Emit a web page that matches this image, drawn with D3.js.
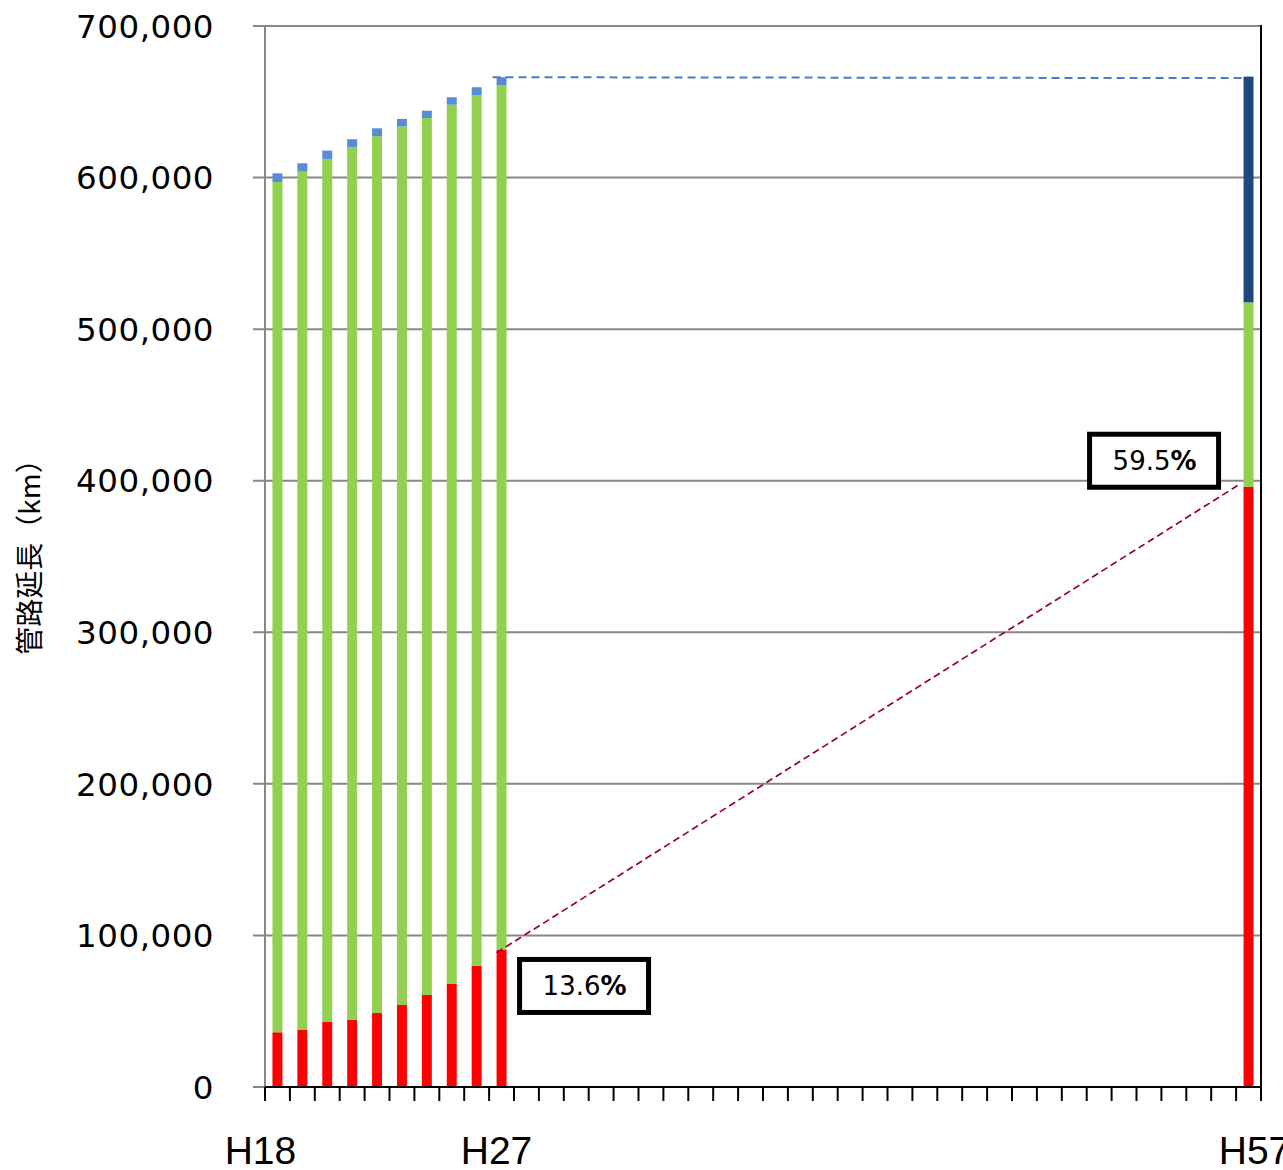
<!DOCTYPE html>
<html>
<head>
<meta charset="utf-8">
<script src="https://cdn.jsdelivr.net/npm/d3@7"></script>
<style>
  body { margin: 0; background: #fff; }
  svg { display: block; }
</style>
</head>
<body>
<svg width="1283" height="1170"></svg>
<script>
// Datos del gráfico
const years = ["H18","H19","H20","H21","H22","H23","H24","H25","H26","H27",
  "H28","H29","H30","H31","H32","H33","H34","H35","H36","H37",
  "H38","H39","H40","H41","H42","H43","H44","H45","H46","H47",
  "H48","H49","H50","H51","H52","H53","H54","H55","H56","H57"];
const barYears = ["H18","H19","H20","H21","H22","H23","H24","H25","H26","H27","H57"];
const over40 = [36100, 37600, 42900, 44200, 48800, 54100, 60700, 68200, 80000, 90600, 396100];
const under40 = [561000, 566300, 569400, 576000, 578600, 579700, 578600, 579900, 574500, 570300, 121600];
const unknown = [5700, 5500, 5500, 5100, 5100, 4900, 4800, 4900, 5100, 5300, 0];
const future = [0, 0, 0, 0, 0, 0, 0, 0, 0, 0, 148900];
const yTicks = [0, 100000, 200000, 300000, 400000, 500000, 600000, 700000];
const xLabels = ["H18", "H27", "H57"];
const pctLabels = [{ year: "H27", num: "13.6" }, { year: "H57", num: "59.5" }];

// Seleccionar el contenedor SVG
const svg = d3.select("svg");
const mLeft = 265, mTop = 26, plotW = 996, plotH = 1061;

const x = d3.scaleBand().domain(years).range([mLeft, mLeft + plotW]).paddingInner(0.6).paddingOuter(0.3);
const xb = d3.scaleBand().domain(years).range([mLeft, mLeft + plotW]);
const y = d3.scaleLinear().domain([0, 700000]).range([mTop + plotH, mTop]);

// Líneas de cuadrícula
svg.append("g").selectAll("line")
  .data(yTicks)
  .enter().append("line")
  .attr("x1", mLeft - 12).attr("x2", mLeft + plotW)
  .attr("y1", d => y(d)).attr("y2", d => y(d))
  .attr("stroke", "#878787").attr("stroke-width", 2);

// Eje izquierdo y borde derecho
svg.append("line").attr("x1", mLeft).attr("x2", mLeft).attr("y1", mTop).attr("y2", mTop + plotH)
  .attr("stroke", "#878787").attr("stroke-width", 2);
svg.append("line").attr("x1", mLeft + plotW).attr("x2", mLeft + plotW).attr("y1", mTop - 1).attr("y2", mTop + plotH + 14)
  .attr("stroke", "#000").attr("stroke-width", 2);

// Etiquetas del eje Y
svg.append("g").selectAll("text")
  .data(yTicks)
  .enter().append("text")
  .attr("x", 214)
  .attr("y", d => y(d))
  .attr("dy", "0.36em")
  .attr("text-anchor", "end")
  .style("font-family", "'DejaVu Sans', sans-serif")
  .style("font-size", "32.5px")
  .style("letter-spacing", "0.5px")
  .text(d => d3.format(",")(d));

// Barras apiladas
const table = barYears.map((yr, i) => ({ year: yr, over40: over40[i], under40: under40[i], unknown: unknown[i], future: future[i] }));
const keys = ["over40", "under40", "unknown", "future"];
const colors = { over40: "#FF0000", under40: "#92D050", unknown: "#558ED5", future: "#1F497D" };
const stacked = d3.stack().keys(keys)(table);

svg.append("g").selectAll("g")
  .data(stacked)
  .enter().append("g")
  .attr("fill", d => colors[d.key])
  .selectAll("rect")
  .data(d => d.filter(p => p[1] > p[0]))
  .enter().append("rect")
  .attr("x", d => x(d.data.year))
  .attr("width", x.bandwidth())
  .attr("y", d => y(d[1]))
  .attr("height", d => y(d[0]) - y(d[1]));

// Eje X con marcas
const xAxis = svg.append("g");
xAxis.append("line").attr("x1", mLeft).attr("x2", mLeft + plotW)
  .attr("y1", mTop + plotH).attr("y2", mTop + plotH)
  .attr("stroke", "#000").attr("stroke-width", 2);
xAxis.selectAll(".tick")
  .data(years)
  .enter().append("line")
  .attr("x1", d => xb(d)).attr("x2", d => xb(d))
  .attr("y1", mTop + plotH).attr("y2", mTop + plotH + 14)
  .attr("stroke", "#000").attr("stroke-width", 2);

const labelShift = { H18: -17, H27: -5, H57: 6 };
svg.append("g").selectAll("text")
  .data(xLabels)
  .enter().append("text")
  .attr("x", d => x(d) + x.bandwidth() / 2 + labelShift[d])
  .attr("y", 1164)
  .attr("text-anchor", "middle")
  .style("font-family", "'Liberation Sans', Arial, sans-serif")
  .style("font-size", "39px")
  .text(d => d);

// Líneas discontinuas de tendencia
const total = table.map(d => d.over40 + d.under40 + d.unknown + d.future);
const i27 = barYears.indexOf("H27"), i57 = barYears.indexOf("H57");
svg.append("line")
  .attr("x1", x("H27") - 4).attr("y1", y(total[i27]))
  .attr("x2", x("H57")).attr("y2", y(total[i57]) + 1.5)
  .attr("stroke", "#4A7EC0").attr("stroke-width", 2)
  .attr("stroke-dasharray", "8,5");
svg.append("line")
  .attr("x1", x("H27")).attr("y1", y(over40[i27]) + 3)
  .attr("x2", x("H57") - 3).attr("y2", y(over40[i57]) - 3)
  .attr("stroke", "#990033").attr("stroke-width", 1.7)
  .attr("stroke-dasharray", "7,4");

// Cuadros de porcentaje
const boxPos = { H27: { dx: 23, v: 67000 }, H57: { dx: -154, v: 413500 } };
const boxes = svg.append("g").selectAll("g")
  .data(pctLabels)
  .enter().append("g")
  .attr("transform", d => `translate(${x(d.year) + boxPos[d.year].dx},${y(boxPos[d.year].v)})`);
boxes.append("rect")
  .attr("x", 0).attr("y", -26)
  .attr("width", 129).attr("height", 53)
  .attr("fill", "#fff").attr("stroke", "#000").attr("stroke-width", 5);
const pctText = boxes.append("text")
  .attr("x", 65).attr("y", 0).attr("dy", "0.36em")
  .attr("text-anchor", "middle")
  .style("font-family", "'DejaVu Sans', sans-serif")
  .style("font-size", "26px");
pctText.append("tspan").text(d => d.num);
pctText.append("tspan").style("font-weight", "bold").text("%");

// Título del eje Y
svg.append("text")
  .attr("transform", "translate(30,550) rotate(-90)")
  .attr("dy", "0.36em")
  .attr("text-anchor", "middle")
  .style("font-family", "'Noto Sans CJK JP', sans-serif")
  .style("font-size", "28px")
  .text("管路延長（km）");
</script>
</body>
</html>
